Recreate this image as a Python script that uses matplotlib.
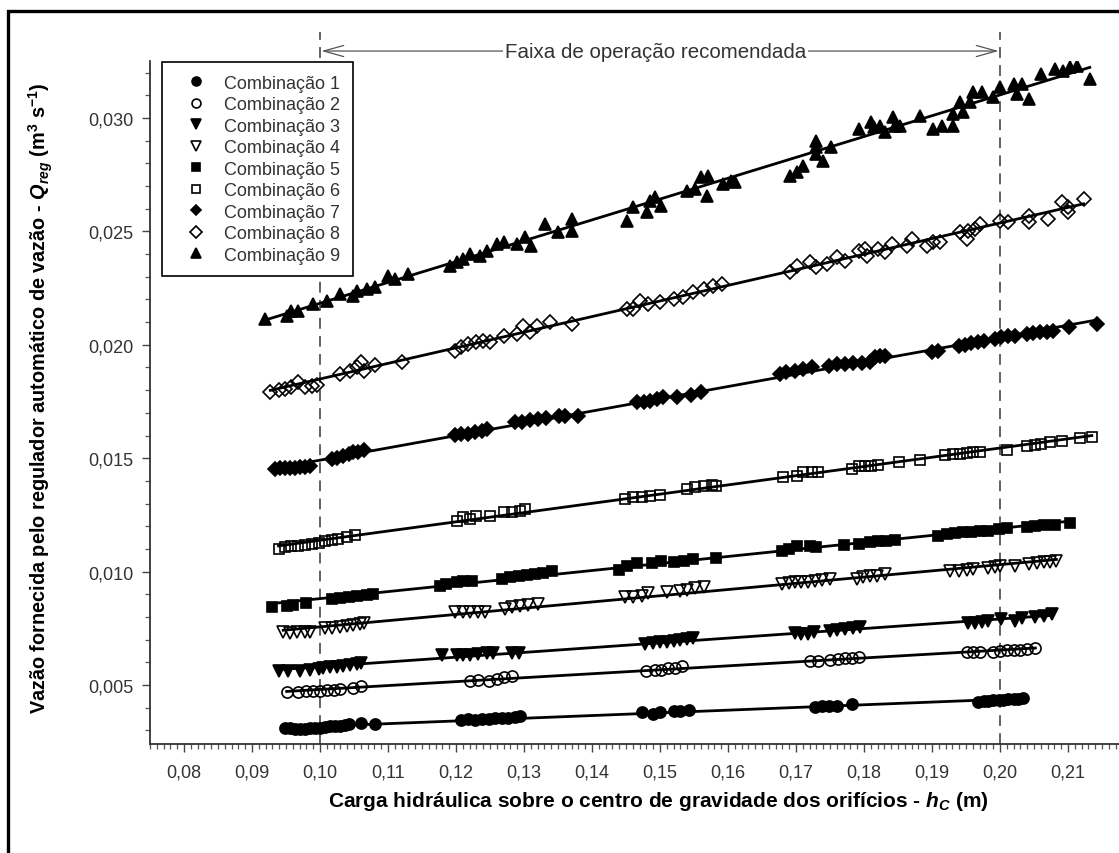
import numpy as np
import matplotlib
matplotlib.use('Agg')
import matplotlib.pyplot as plt
from matplotlib import font_manager
from matplotlib.patches import Rectangle
from matplotlib.ticker import MultipleLocator, FuncFormatter

# Combinação 1 .. 9 : (hc [m], Qreg [m3/s])
c1_x = [0.0949, 0.0956, 0.0963, 0.0971, 0.0978, 0.0985, 0.0993, 0.1000, 0.1007, 0.1015, 0.1022, 0.1029, 0.1037, 0.1042, 0.1061, 0.1081,
        0.1208, 0.1218, 0.1228, 0.1238, 0.1248, 0.1257, 0.1267, 0.1277, 0.1287, 0.1294,
        0.1473, 0.1490, 0.1500, 0.1520, 0.1529, 0.1542,
        0.1728, 0.1738, 0.1748, 0.1760, 0.1782,
        0.1968, 0.1976, 0.1983, 0.1990, 0.1998, 0.2005, 0.2012, 0.2020, 0.2027, 0.2034]
c1_y = [0.00309, 0.00309, 0.00306, 0.00306, 0.00306, 0.00309, 0.00309, 0.00312, 0.00315, 0.00318, 0.00318, 0.00321, 0.00324, 0.00327, 0.00332, 0.00328,
        0.00347, 0.00350, 0.00347, 0.00350, 0.00350, 0.00353, 0.00353, 0.00356, 0.00359, 0.00362,
        0.00380, 0.00372, 0.00380, 0.00387, 0.00387, 0.00391,
        0.00402, 0.00406, 0.00406, 0.00408, 0.00416,
        0.00426, 0.00429, 0.00428, 0.00432, 0.00433, 0.00434, 0.00437, 0.00438, 0.00440, 0.00441]

c2_x = [0.0951, 0.0968, 0.0980, 0.0990, 0.1000, 0.1010, 0.1020, 0.1029, 0.1049, 0.1061,
        0.1221, 0.1233, 0.1248, 0.1260, 0.1270, 0.1282,
        0.1480, 0.1493, 0.1502, 0.1512, 0.1522, 0.1532,
        0.1721, 0.1733, 0.1750, 0.1762, 0.1772, 0.1782, 0.1792,
        0.1951, 0.1961, 0.1971, 0.1990, 0.2000, 0.2010, 0.2020, 0.2029, 0.2039, 0.2052]
c2_y = [0.00468, 0.00471, 0.00474, 0.00474, 0.00475, 0.00479, 0.00479, 0.00482, 0.00489, 0.00497,
        0.00519, 0.00523, 0.00519, 0.00526, 0.00534, 0.00541,
        0.00563, 0.00567, 0.00567, 0.00574, 0.00576, 0.00582,
        0.00607, 0.00607, 0.00612, 0.00615, 0.00617, 0.00620, 0.00622,
        0.00644, 0.00644, 0.00647, 0.00647, 0.00650, 0.00653, 0.00656, 0.00656, 0.00659, 0.00662]

c3_x = [0.0939, 0.0953, 0.0971, 0.0985, 0.0998, 0.1005, 0.1015, 0.1025, 0.1034, 0.1044, 0.1054, 0.1061,
        0.1179, 0.1201, 0.1211, 0.1221, 0.1233, 0.1245, 0.1255, 0.1282, 0.1292,
        0.1478, 0.1490, 0.1500, 0.1510, 0.1520, 0.1529, 0.1539, 0.1549,
        0.1699, 0.1708, 0.1718, 0.1726, 0.1750, 0.1760, 0.1772, 0.1784, 0.1794,
        0.1953, 0.1963, 0.1973, 0.1983, 0.2002, 0.2022, 0.2032, 0.2052, 0.2064, 0.2076]
c3_y = [0.00563, 0.00563, 0.00563, 0.00566, 0.00571, 0.00574, 0.00578, 0.00581, 0.00585, 0.00588, 0.00593, 0.00596,
        0.00632, 0.00632, 0.00632, 0.00634, 0.00636, 0.00639, 0.00640, 0.00643, 0.00643,
        0.00681, 0.00685, 0.00688, 0.00691, 0.00695, 0.00700, 0.00703, 0.00707,
        0.00729, 0.00725, 0.00725, 0.00732, 0.00740, 0.00744, 0.00747, 0.00750, 0.00754,
        0.00773, 0.00773, 0.00779, 0.00784, 0.00791, 0.00784, 0.00794, 0.00799, 0.00803, 0.00813]

c4_x = [0.0946, 0.0956, 0.0966, 0.0978, 0.0985, 0.1007, 0.1017, 0.1029, 0.1039, 0.1049, 0.1059, 0.1064,
        0.1199, 0.1211, 0.1221, 0.1233, 0.1243, 0.1272, 0.1282, 0.1294, 0.1306, 0.1321,
        0.1449, 0.1461, 0.1473, 0.1483, 0.1510, 0.1529, 0.1539, 0.1551, 0.1564,
        0.1679, 0.1689, 0.1699, 0.1708, 0.1718, 0.1728, 0.1738, 0.1750, 0.1789, 0.1799, 0.1809, 0.1819, 0.1831,
        0.1927, 0.1939, 0.1951, 0.1961, 0.1983, 0.1993, 0.2000, 0.2022, 0.2042, 0.2054, 0.2064, 0.2074, 0.2083]
c4_y = [0.00732, 0.00729, 0.00732, 0.00735, 0.00735, 0.00750, 0.00751, 0.00754, 0.00759, 0.00765, 0.00769, 0.00773,
        0.00821, 0.00823, 0.00821, 0.00823, 0.00821, 0.00835, 0.00843, 0.00847, 0.00853, 0.00857,
        0.00887, 0.00889, 0.00894, 0.00906, 0.00909, 0.00916, 0.00920, 0.00926, 0.00931,
        0.00945, 0.00950, 0.00953, 0.00953, 0.00956, 0.00960, 0.00964, 0.00967, 0.00967, 0.00975, 0.00979, 0.00982, 0.00989,
        0.01004, 0.01004, 0.01008, 0.01011, 0.01016, 0.01022, 0.01026, 0.01026, 0.01033, 0.01038, 0.01041, 0.01044, 0.01048]

c5_x = [0.0929, 0.0951, 0.0961, 0.0980, 0.1017, 0.1029, 0.1042, 0.1054, 0.1069, 0.1078,
        0.1176, 0.1186, 0.1201, 0.1211, 0.1223,
        0.1267, 0.1279, 0.1292, 0.1304, 0.1316, 0.1328, 0.1341,
        0.1439, 0.1451, 0.1466, 0.1488, 0.1502, 0.1520, 0.1535, 0.1549, 0.1583,
        0.1679, 0.1689, 0.1701, 0.1721, 0.1730,
        0.1770, 0.1792, 0.1809, 0.1821, 0.1833, 0.1846,
        0.1909, 0.1922, 0.1934, 0.1946, 0.1958, 0.1971, 0.1983, 0.1998,
        0.2010, 0.2039, 0.2052, 0.2064, 0.2081, 0.2103]
c5_y = [0.00843, 0.00850, 0.00853, 0.00860, 0.00879, 0.00882, 0.00887, 0.00891, 0.00897, 0.00901,
        0.00938, 0.00945, 0.00953, 0.00957, 0.00960,
        0.00967, 0.00975, 0.00979, 0.00985, 0.00989, 0.00994, 0.01001,
        0.01009, 0.01024, 0.01039, 0.01036, 0.01048, 0.01044, 0.01048, 0.01056, 0.01059,
        0.01092, 0.01100, 0.01114, 0.01114, 0.01107,
        0.01117, 0.01122, 0.01132, 0.01135, 0.01137, 0.01141,
        0.01158, 0.01166, 0.01170, 0.01173, 0.01176, 0.01179, 0.01180, 0.01188,
        0.01191, 0.01195, 0.01202, 0.01205, 0.01205, 0.01214]

c6_x = [0.0939, 0.0949, 0.0958, 0.0968, 0.0978, 0.0988, 0.0998, 0.1007, 0.1017, 0.1027, 0.1039, 0.1052,
        0.1201, 0.1211, 0.1221, 0.1230, 0.1250, 0.1270, 0.1282, 0.1294, 0.1302,
        0.1449, 0.1461, 0.1473, 0.1485, 0.1500,
        0.1539, 0.1552, 0.1564, 0.1576, 0.1583,
        0.1681, 0.1701, 0.1711, 0.1723, 0.1733,
        0.1782, 0.1792, 0.1802, 0.1811, 0.1821, 0.1851, 0.1882,
        0.1919, 0.1931, 0.1941, 0.1951, 0.1961, 0.1971,
        0.2010, 0.2039, 0.2052, 0.2061, 0.2074, 0.2091, 0.2117, 0.2135]
c6_y = [0.01100, 0.01107, 0.01111, 0.01114, 0.01117, 0.01122, 0.01126, 0.01136, 0.01141, 0.01144, 0.01151, 0.01161,
        0.01224, 0.01239, 0.01232, 0.01247, 0.01247, 0.01261, 0.01264, 0.01269, 0.01276,
        0.01320, 0.01328, 0.01330, 0.01335, 0.01338,
        0.01364, 0.01372, 0.01379, 0.01382, 0.01379,
        0.01416, 0.01423, 0.01438, 0.01441, 0.01441,
        0.01452, 0.01464, 0.01467, 0.01467, 0.01470, 0.01485, 0.01494,
        0.01514, 0.01519, 0.01519, 0.01523, 0.01526, 0.01529,
        0.01537, 0.01555, 0.01558, 0.01563, 0.01570, 0.01577, 0.01588, 0.01592]

c7_x = [0.0934, 0.0941, 0.0949, 0.0956, 0.0963, 0.0971, 0.0978, 0.0985,
        0.1017, 0.1025, 0.1034, 0.1042, 0.1049, 0.1056, 0.1064,
        0.1199, 0.1208, 0.1218, 0.1228, 0.1238, 0.1245,
        0.1287, 0.1297, 0.1309, 0.1321, 0.1333, 0.1351, 0.1360, 0.1380,
        0.1466, 0.1476, 0.1485, 0.1495, 0.1505, 0.1525, 0.1545, 0.1560,
        0.1677, 0.1686, 0.1699, 0.1711, 0.1723,
        0.1748, 0.1760, 0.1772, 0.1784, 0.1797, 0.1809,
        0.1816, 0.1824, 0.1831,
        0.1900, 0.1909,
        0.1939, 0.1949, 0.1958, 0.1968, 0.1976,
        0.1993, 0.2002, 0.2012, 0.2022,
        0.2039, 0.2049, 0.2059, 0.2069, 0.2078, 0.2101, 0.2142]
c7_y = [0.01452, 0.01455, 0.01455, 0.01458, 0.01458, 0.01460, 0.01461, 0.01464,
        0.01496, 0.01503, 0.01508, 0.01518, 0.01526, 0.01529, 0.01537,
        0.01602, 0.01607, 0.01607, 0.01614, 0.01621, 0.01629,
        0.01658, 0.01661, 0.01670, 0.01673, 0.01676, 0.01685, 0.01688, 0.01688,
        0.01746, 0.01749, 0.01754, 0.01761, 0.01768, 0.01770, 0.01778, 0.01790,
        0.01871, 0.01879, 0.01886, 0.01893, 0.01901,
        0.01908, 0.01915, 0.01915, 0.01920, 0.01920, 0.01923,
        0.01945, 0.01952, 0.01949,
        0.01967, 0.01974,
        0.01993, 0.01999, 0.02008, 0.02014, 0.02018,
        0.02026, 0.02033, 0.02038, 0.02040,
        0.02048, 0.02052, 0.02055, 0.02058, 0.02062, 0.02077, 0.02092]

c8_x = [0.0927, 0.0939, 0.0949, 0.0958, 0.0968, 0.0978, 0.0988, 0.0995,
        0.1029, 0.1044, 0.1054, 0.1061, 0.1064, 0.1081,
        0.1120,
        0.1199, 0.1208, 0.1218, 0.1230, 0.1240, 0.1250,
        0.1270, 0.1289, 0.1299, 0.1309, 0.1319, 0.1338, 0.1370,
        0.1451, 0.1461, 0.1471, 0.1483, 0.1500, 0.1520, 0.1534,
        0.1549, 0.1564, 0.1578, 0.1591,
        0.1691, 0.1701, 0.1721, 0.1730, 0.1745, 0.1760, 0.1772,
        0.1792, 0.1801, 0.1804, 0.1821, 0.1831, 0.1841, 0.1863, 0.1870, 0.1892, 0.1902, 0.1912,
        0.1941, 0.1951, 0.1953, 0.1963, 0.1971,
        0.2000, 0.2012, 0.2042, 0.2042, 0.2071, 0.2091, 0.2100, 0.2100, 0.2123]
c8_y = [0.01791, 0.01802, 0.01805, 0.01813, 0.01835, 0.01813, 0.01820, 0.01823,
        0.01871, 0.01886, 0.01901, 0.01923, 0.01886, 0.01911,
        0.01923,
        0.01974, 0.01989, 0.02004, 0.02011, 0.02018, 0.02011,
        0.02040, 0.02048, 0.02084, 0.02055, 0.02084, 0.02099, 0.02092,
        0.02158, 0.02158, 0.02195, 0.02180, 0.02187, 0.02202, 0.02209,
        0.02231, 0.02246, 0.02260, 0.02268,
        0.02320, 0.02349, 0.02364, 0.02342, 0.02356, 0.02386, 0.02371,
        0.02415, 0.02422, 0.02393, 0.02422, 0.02408, 0.02444, 0.02437, 0.02466, 0.02437, 0.02452, 0.02452,
        0.02496, 0.02466, 0.02503, 0.02511, 0.02533,
        0.02547, 0.02543, 0.02569, 0.02540, 0.02555, 0.02628, 0.02606, 0.02584, 0.02643]

c9_x = [0.0919, 0.0951, 0.0958, 0.0968, 0.0990, 0.1010, 0.1029, 0.1049, 0.1054, 0.1069, 0.1081, 0.1100, 0.1110, 0.1130,
        0.1191, 0.1201, 0.1211, 0.1221, 0.1235, 0.1245, 0.1260, 0.1270, 0.1289, 0.1301, 0.1311, 0.1331, 0.1350, 0.1370, 0.1370,
        0.1451, 0.1461, 0.1481, 0.1485, 0.1493, 0.1502,
        0.1539, 0.1551, 0.1561, 0.1571, 0.1569, 0.1593, 0.1605, 0.1610,
        0.1691, 0.1701, 0.1711, 0.1730, 0.1730, 0.1730, 0.1740, 0.1752,
        0.1792, 0.1811, 0.1814, 0.1823, 0.1831, 0.1843, 0.1846, 0.1853, 0.1882, 0.1902, 0.1914,
        0.1931, 0.1931, 0.1941, 0.1946, 0.1956, 0.1961, 0.1973, 0.1990, 0.2000,
        0.2020, 0.2025, 0.2032, 0.2042, 0.2061, 0.2081, 0.2093, 0.2103, 0.2113, 0.2132]
c9_y = [0.02114, 0.02128, 0.02148, 0.02150, 0.02180, 0.02195, 0.02224, 0.02217, 0.02239, 0.02246, 0.02254, 0.02305, 0.02290, 0.02312,
        0.02349, 0.02364, 0.02378, 0.02400, 0.02393, 0.02415, 0.02444, 0.02452, 0.02444, 0.02474, 0.02437, 0.02533, 0.02496, 0.02555, 0.02503,
        0.02547, 0.02606, 0.02584, 0.02635, 0.02650, 0.02613,
        0.02680, 0.02687, 0.02738, 0.02746, 0.02657, 0.02709, 0.02724, 0.02716,
        0.02746, 0.02760, 0.02790, 0.02900, 0.02871, 0.02841, 0.02812, 0.02871,
        0.02951, 0.02981, 0.02959, 0.02966, 0.02937, 0.03003, 0.02966, 0.02966, 0.03010, 0.02951, 0.02966,
        0.02966, 0.03018, 0.03069, 0.03025, 0.03069, 0.03113, 0.03113, 0.03091, 0.03135,
        0.03150, 0.03106, 0.03150, 0.03084, 0.03194, 0.03216, 0.03209, 0.03224, 0.03231, 0.03172]

labels = ['Combinação %d' % i for i in range(1, 10)]
xs = [c1_x, c2_x, c3_x, c4_x, c5_x, c6_x, c7_x, c8_x, c9_x]
ys = [c1_y, c2_y, c3_y, c4_y, c5_y, c6_y, c7_y, c8_y, c9_y]
# marker, filled?, size
styles = [('o', True, 8), ('o', False, 8), ('v', True, 8.5), ('v', False, 8.5),
          ('s', True, 7), ('s', False, 7), ('D', True, 7), ('D', False, 7.5), ('^', True, 8.5)]

names = {f.name for f in font_manager.fontManager.ttflist}
narrow = 'Liberation Sans Narrow' if 'Liberation Sans Narrow' in names else 'Liberation Sans'

plt.rcParams['font.family'] = ['Liberation Sans', 'DejaVu Sans']
plt.rcParams['mathtext.fontset'] = 'custom'
plt.rcParams['mathtext.rm'] = narrow + ':bold'
plt.rcParams['mathtext.it'] = narrow + ':italic:bold'
plt.rcParams['mathtext.bf'] = narrow + ':bold'

fig = plt.figure(figsize=(11.19, 8.54), dpi=100)
ax = fig.add_axes([150/1119, 109/854, 969/1119, 683/854])

for x, y, lab, (m, filled, ms) in zip(xs, ys, labels, styles):
    x = np.array(x); y = np.array(y)
    b, a = np.polyfit(x, y, 1)
    xx = np.array([x.min(), x.max()])
    ax.plot(xx, a + b*xx, color='black', lw=2.0, zorder=2)
    ax.plot(x, y, linestyle='none', marker=m, ms=ms, mec='black', mew=1.2,
            mfc='black' if filled else 'none', label=lab, zorder=3)

ax.set_xlim(0.075, 0.2175)
ax.set_ylim(0.0024, 0.03251)
ax.xaxis.set_major_locator(MultipleLocator(0.01))
ax.xaxis.set_minor_locator(MultipleLocator(0.001))
ax.yaxis.set_major_locator(MultipleLocator(0.005))
ax.yaxis.set_minor_locator(MultipleLocator(0.001))
ax.xaxis.set_major_formatter(FuncFormatter(lambda v, p: ('%.2f' % v).replace('.', ',')))
ax.yaxis.set_major_formatter(FuncFormatter(lambda v, p: ('%.3f' % v).replace('.', ',')))
ax.tick_params(which='major', length=6, width=1, color='#444', labelsize=13, labelcolor='#333')
ax.tick_params(which='minor', length=3.5, width=0.9, color='#555')
ax.tick_params(axis='x', which='major', pad=8)
ax.tick_params(axis='y', which='major', pad=6)
for s in ['top', 'right']:
    ax.spines[s].set_visible(False)
for s in ['left', 'bottom']:
    ax.spines[s].set_color('#333')
    ax.spines[s].set_linewidth(1.3)

# recommended operating range
trans = ax.get_xaxis_transform()
for xv in [0.10, 0.20]:
    ax.plot([xv, xv], [0, 1.0425], transform=trans, color='#555', lw=1.3,
            linestyle=(0, (6, 4)), clip_on=False, zorder=1)
ax.annotate('', xy=(0.1002, 1.0146), xytext=(0.1998, 1.0146), xycoords=trans, textcoords=trans,
            arrowprops=dict(arrowstyle='<->,head_length=0.9,head_width=0.25', color='#555', lw=0.9,
                            shrinkA=0, shrinkB=0, mutation_scale=16))
ax.text(0.1493, 1.0146, 'Faixa de operação recomendada', transform=trans, ha='center', va='center',
        fontsize=14.8, color='#333', bbox=dict(facecolor='white', edgecolor='none', pad=1.5))

leg = ax.legend(loc='upper left', bbox_to_anchor=(0.0124, 0.9985), borderaxespad=0, fontsize=13,
                handlelength=2.35, handletextpad=0.4, borderpad=0.7, labelspacing=0.25,
                markerscale=0.8, fancybox=False, framealpha=1, edgecolor='black')
leg.get_frame().set_linewidth(1.2)
for t in leg.get_texts():
    t.set_color('#333')

fig.text(658/1119, 1 - 802/854,
         r'Carga hidráulica sobre o centro de gravidade dos orifícios - $h_C$ (m)',
         ha='center', va='center', fontsize=15, fontweight='bold', family=[narrow, 'DejaVu Sans'])
fig.text(41/1119, 1 - 398/854,
         r'Vazão fornecida pelo regulador automático de vazão - $Q_{reg}$ (m$^3$ s$^{-1}$)',
         ha='center', va='center', rotation=90, fontsize=14.3, fontweight='bold', family=[narrow, 'DejaVu Sans'])

fig.add_artist(Rectangle((8/1119, -0.1), 1.2, 0.9859 + 0.1, transform=fig.transFigure,
                         fill=False, lw=2.4, ec='black'))

fig.savefig('out.png', dpi=100)
